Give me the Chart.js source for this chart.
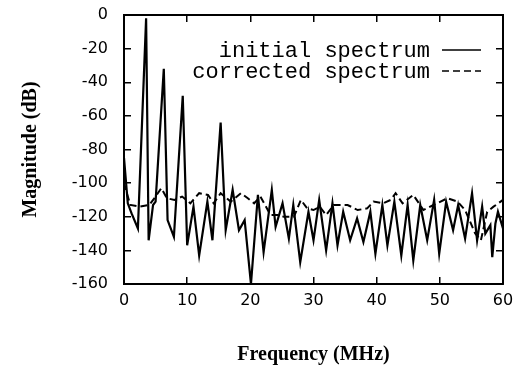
<!DOCTYPE html>
<html>
<head>
<meta charset="utf-8">
<script src="https://cdn.jsdelivr.net/npm/chart.js@4.4.1/dist/chart.umd.min.js"></script>
<style>
  html, body { margin: 0; padding: 0; background: #fff; }
  canvas { display: block; }
</style>
</head>
<body>
<canvas id="spec" width="515" height="370"></canvas>
<script>
/* spectrum plot: initial vs corrected */
const freqInit = [0, 0.6, 1.2, 2.2, 3.5, 3.9, 4.6, 5.0, 6.3, 6.9, 7.9, 9.3, 10.0, 11.0, 11.9, 13.2,
  14.0, 15.3, 16.1, 17.2, 18.2, 19.1, 20.1, 21.2, 22.1, 23.4, 24.0, 25.1, 26.1, 26.8, 27.9, 29.2,
  30.0, 30.9, 32.0, 33.0, 33.8, 34.7, 35.8, 36.9, 37.9, 39.0, 39.8, 40.9, 41.7, 42.8, 43.9, 44.9,
  45.8, 46.9, 48.0, 49.1, 49.9, 51.0, 52.1, 52.9, 54.0, 55.1, 55.9, 56.7, 57.2, 58.0, 58.3, 58.8,
  59.2, 60];
const magInit = [-85, -112, -118, -127, -2, -134, -113, -111, -32, -122, -132, -48, -137, -114, -143, -111,
  -134, -64, -128, -104, -128, -122, -160, -107, -141, -104, -126, -112, -133, -113, -147, -117,
  -134, -110, -140, -112, -137, -117, -134, -121, -135, -117, -142, -113, -137, -111, -143, -113,
  -146, -113, -134, -110, -142, -111, -128, -113, -133, -106, -134, -114, -130, -125, -144, -124,
  -117, -127];

const freqCorr = [0, 1.0, 2.5, 4.0, 5.0, 5.9, 6.8, 8.0, 9.2, 10.5, 11.9, 13.3, 14.2, 15.3, 16.9, 18.5,
  19.6, 20.6, 21.6, 23.2, 24.3, 25.3, 26.9, 28.0, 29.0, 30.0, 31.0, 32.0, 33.2, 35.4, 37.0, 38.5,
  39.5, 41.0, 42.2, 43.0, 44.1, 45.8, 47.4, 49.0, 51.2, 52.8, 54.0, 55.6, 56.5, 57.5, 58.5, 60];
const magCorr = [-100, -113, -114, -113, -108, -103, -109, -110, -108, -112, -106, -107, -112, -106, -111, -106,
  -109, -112, -108, -119, -119, -120, -120, -110, -115, -116, -114, -119, -113, -113, -116, -115,
  -111, -112, -110, -106, -112, -107, -116, -113, -109, -111, -116, -130, -134, -117, -114, -110];

const xTicks = [0, 10, 20, 30, 40, 50, 60];
const yTicks = [-160, -140, -120, -100, -80, -60, -40, -20, 0];

const toPts = (xs, ys) => xs.map((x, i) => ({ x, y: ys[i] }));

// inward tick marks on all four sides, gnuplot style
const tickGrid = { drawOnChartArea: false, drawTicks: true, tickLength: -7, color: '#000', lineWidth: 1.5 };
const frame = { display: true, color: '#000', width: 2 };
const tickFont = { family: 'DejaVu Sans', size: 16 };
const titleFont = { family: 'Liberation Serif', size: 20, weight: 'bold' };

// fixed box sizes, and no label overhang padding so the frame sits where the figure has it
const fixSize = (w, h) => s => {
  if (w !== null) s.width = w;
  if (h !== null) s.height = h;
  s.paddingLeft = s.paddingRight = s.paddingTop = s.paddingBottom = 0;
};

// key drawn inside the plot, text first then line sample
const keyPlugin = {
  id: 'key',
  afterDatasetsDraw(chart) {
    const ctx = chart.ctx;
    const rows = [50, 71];
    ctx.save();
    ctx.font = '22px "Liberation Mono"';
    ctx.fillStyle = '#000';
    ctx.textAlign = 'right';
    ctx.textBaseline = 'middle';
    chart.data.datasets.forEach((ds, i) => {
      const y = rows[i];
      ctx.fillText(ds.label, 430, y + 1);
      ctx.strokeStyle = ds.borderColor;
      ctx.lineWidth = 1.6;
      ctx.setLineDash(ds.borderDash || []);
      ctx.beginPath();
      ctx.moveTo(442, y);
      ctx.lineTo(481, y);
      ctx.stroke();
    });
    ctx.restore();
  }
};

new Chart(document.getElementById('spec'), {
  type: 'line',
  data: {
    datasets: [
      {
        label: 'initial spectrum',
        data: toPts(freqInit, magInit),
        borderColor: '#000',
        borderWidth: 2.2,
        tension: 0
      },
      {
        label: 'corrected spectrum',
        data: toPts(freqCorr, magCorr),
        borderColor: '#000',
        borderWidth: 2,
        borderDash: [7, 4],
        tension: 0
      }
    ]
  },
  options: {
    responsive: false,
    animation: false,
    devicePixelRatio: 1,
    layout: { padding: { top: 15, right: 12, left: 0, bottom: 0 } },
    elements: { point: { radius: 0 } },
    plugins: { legend: { display: false }, tooltip: { enabled: false } },
    scales: {
      x: {
        type: 'linear', position: 'bottom', min: 0, max: 60,
        afterBuildTicks: s => { s.ticks = xTicks.map(v => ({ value: v })); },
        ticks: { color: '#000', font: tickFont, padding: 14, maxRotation: 0 },
        grid: tickGrid, border: frame,
        title: { display: true, text: 'Frequency (MHz)', color: '#000', font: titleFont, padding: { top: 0, bottom: 3 } },
        afterFit: fixSize(null, 86)
      },
      y: {
        type: 'linear', position: 'left', min: -160, max: 0,
        afterBuildTicks: s => { s.ticks = yTicks.map(v => ({ value: v })); },
        ticks: { color: '#000', font: tickFont, padding: 23 },
        grid: tickGrid, border: frame,
        title: { display: true, text: 'Magnitude (dB)', color: '#000', font: titleFont, padding: { top: 19, bottom: 0 } },
        afterFit: fixSize(124, null)
      },
      x2: {
        type: 'linear', position: 'top', min: 0, max: 60,
        afterBuildTicks: s => { s.ticks = xTicks.map(v => ({ value: v })); },
        ticks: { display: false },
        grid: tickGrid, border: frame,
        afterFit: fixSize(null, 0)
      },
      y2: {
        type: 'linear', position: 'right', min: -160, max: 0,
        afterBuildTicks: s => { s.ticks = yTicks.map(v => ({ value: v })); },
        ticks: { display: false },
        grid: tickGrid, border: frame,
        afterFit: fixSize(0, null)
      }
    }
  },
  plugins: [keyPlugin]
});
</script>
</body>
</html>
